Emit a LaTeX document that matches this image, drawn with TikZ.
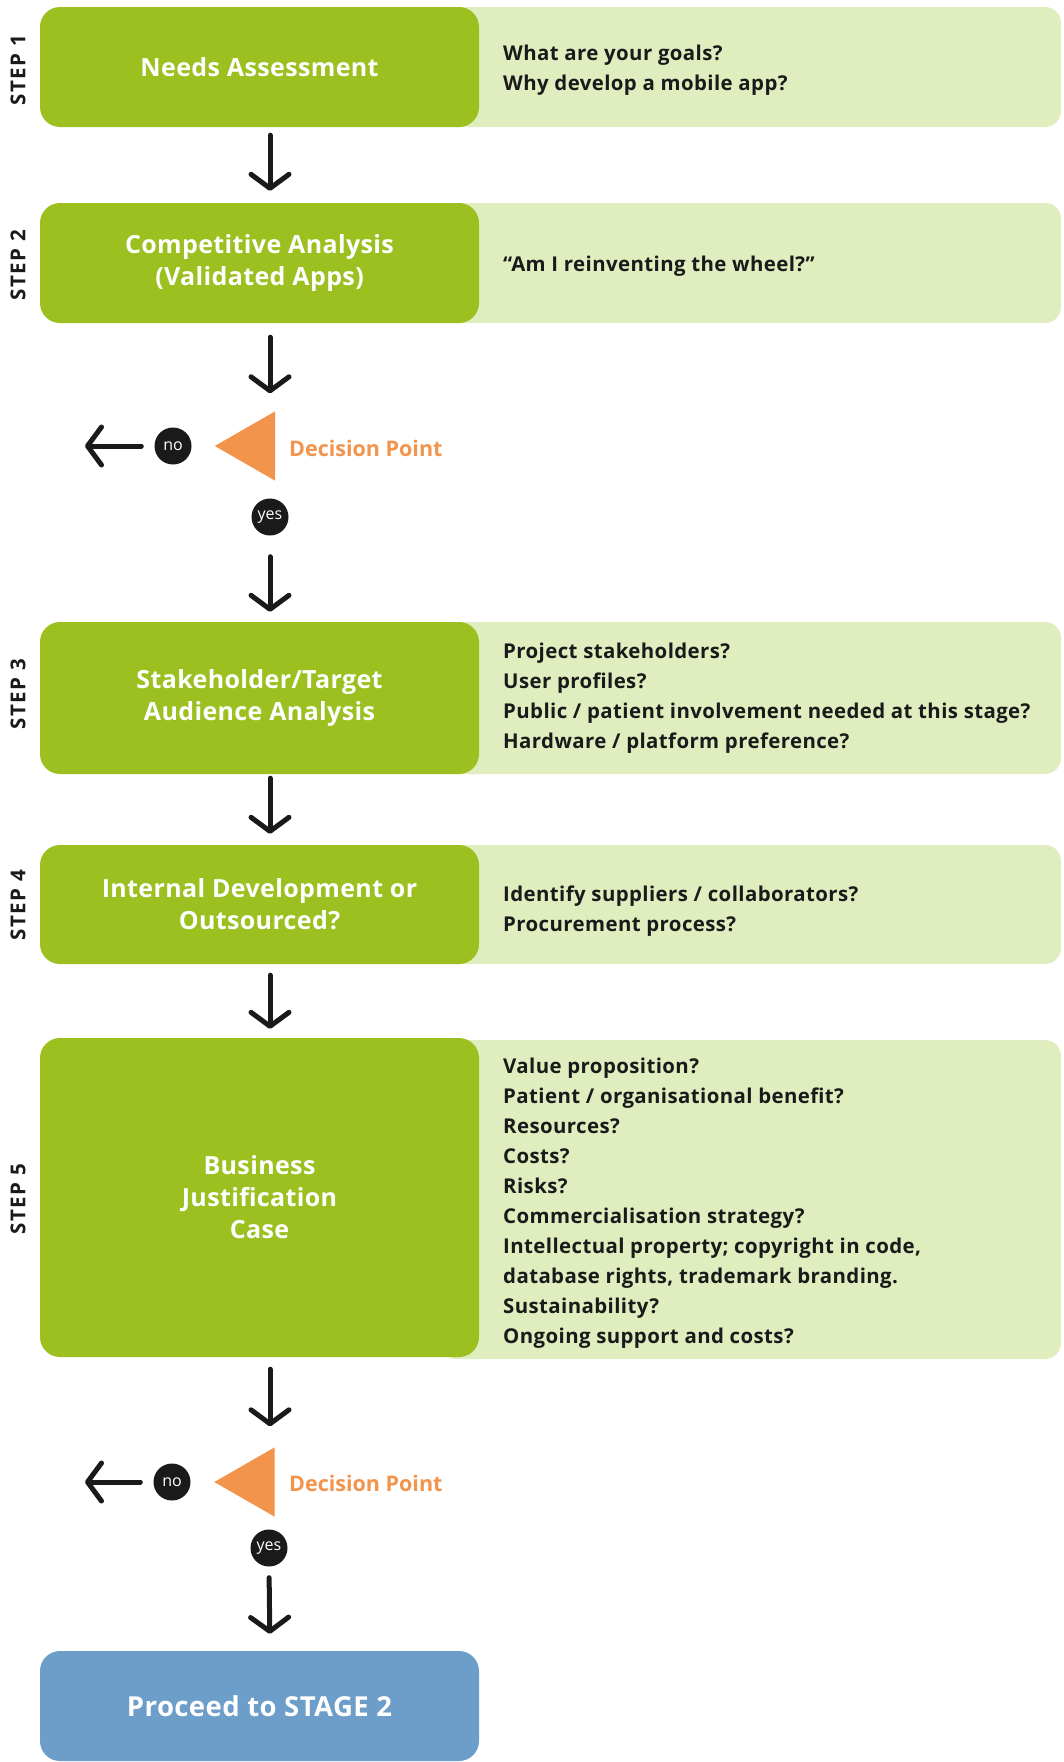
\documentclass[tikz,border=0pt]{standalone}
\usepackage{fontspec}
\setmainfont{Open Sans}
\newfontfamily\stepfont{Open Sans}[LetterSpace=7]
\newfontfamily\qfont{Open Sans}[LetterSpace=2]
\newfontfamily\boxfont{Open Sans}[LetterSpace=1.5]
\usetikzlibrary{arrows.meta}

\definecolor{stepgreen}{HTML}{9BC01F}
\definecolor{panelgreen}{HTML}{E0EDBF}
\definecolor{decisionorange}{HTML}{F2944C}
\definecolor{stageblue}{HTML}{6C9EC9}
\definecolor{ink}{HTML}{1A1A1A}

\tikzset{
  stepbox/.style={fill=stepgreen, rounded corners=20pt, minimum width=439pt,
    text=white, font=\boxfont\bfseries\fontsize{25}{32}\selectfont, align=center, inner sep=0pt},
  qtext/.style={anchor=west, align=left, text=ink, inner sep=0pt,
    font=\qfont\bfseries\fontsize{20.4}{30}\selectfont},
  steplabel/.style={rotate=90, text=ink, inner sep=0pt,
    font=\stepfont\bfseries\fontsize{20.5}{22}\selectfont},
  flow/.style={draw=ink, line width=5pt, line cap=round,
    -{Straight Barb[length=14pt, width=38pt, line cap=round, line join=round]}},
  answer/.style={circle, fill=ink, minimum size=37pt, inner sep=0pt, text=white,
    font=\fontsize{16}{16}\selectfont},
  decisiontext/.style={anchor=west, text=decisionorange, inner sep=0pt,
    font=\bfseries\fontsize{21.5}{24}\selectfont},
  hitbox/.style={inner sep=0pt, minimum width=60pt, minimum height=69pt}
}

\begin{document}
\begin{tikzpicture}[x=1pt, y=-1pt]
\useasboundingbox[fill=white] (0,0) rectangle (1064,1762);

% ---- light question panels behind the step boxes
\fill[panelgreen, rounded corners=16pt] (440,7)    rectangle (1061,127);
\fill[panelgreen, rounded corners=16pt] (440,203)  rectangle (1061,323);
\fill[panelgreen, rounded corners=16pt] (440,622)  rectangle (1061,774);
\fill[panelgreen, rounded corners=16pt] (440,845)  rectangle (1061,964);
\fill[panelgreen, rounded corners=16pt] (440,1040) rectangle (1061,1359);

% ---- step boxes
\node[stepbox, minimum height=120pt] (s1) at (259.5,67)  {Needs Assessment};
\node[stepbox, minimum height=120pt] (s2) at (259.5,263) {Competitive Analysis\\(Validated Apps)};
\node[stepbox, minimum height=152pt] (s3) at (259.5,698) {Stakeholder/Target\\Audience Analysis};
\node[stepbox, minimum height=119pt] (s4) at (259.5,904.5) {Internal Development or\\Outsourced?};
\node[stepbox, minimum height=319pt] (s5) at (259.5,1197.5) {Business\\Justification\\Case};
\node[stepbox, fill=stageblue, minimum height=110pt, font=\boxfont\bfseries\fontsize{27.5}{32}\selectfont]
  (stage) at (259.5,1706) {Proceed to STAGE 2};

% ---- step labels
\node[steplabel] (l1) at (18,70)   {STEP 1};
\node[steplabel] (l2) at (18,265)  {STEP 2};
\node[steplabel] (l3) at (18,694)  {STEP 3};
\node[steplabel] (l4) at (18,905)  {STEP 4};
\node[steplabel] (l5) at (18,1199) {STEP 5};

% ---- questions
\node[qtext] (q1) at (503,70) {What are your goals?\\Why develop a mobile app?};
\node[qtext] (q2) at (503,266.5) {“Am I reinventing the wheel?”};
\node[qtext] (q3) at (503,698.5) {Project stakeholders?\\User profiles?\\Public / patient involvement needed at this stage?\\Hardware / platform preference?};
\node[qtext] (q4) at (503,911) {Identify suppliers / collaborators?\\Procurement process?};
\node[qtext] (q5) at (503,1203) {Value proposition?\\Patient / organisational benefit?\\Resources?\\Costs?\\Risks?\\Commercialisation strategy?\\Intellectual property; copyright in code,\\database rights, trademark branding.\\Sustainability?\\Ongoing support and costs?};

% ---- decision points
\node[hitbox] (d1) at (245,446) {};
\fill[decisionorange] (d1.west) -- (d1.north east) -- (d1.south east) -- cycle;
\node[decisiontext] (d1t) at (289,448) {Decision Point};
\node[answer] (no1)  at (173,446) {no};
\node[answer] (yes1) at (270,517) {yes};
\coordinate (out1) at (85,446);

\node[hitbox] (d2) at (244.5,1482) {};
\fill[decisionorange] (d2.west) -- (d2.north east) -- (d2.south east) -- cycle;
\node[decisiontext] (d2t) at (289,1483) {Decision Point};
\node[answer] (no2)  at (172,1482) {no};
\node[answer] (yes2) at (269,1548) {yes};
\coordinate (out2) at (85,1482);

% ---- flow arrows along the spine
\coordinate (spine) at (270,0);
\draw[flow, shorten <=8pt, shorten >=12pt] (s1.south -| spine) -- (s2.north -| spine);
\draw[flow, shorten <=14pt, shorten >=18pt] (s2.south -| spine) -- (d1.north -| spine);
\draw[flow, shorten <=21pt, shorten >=10pt] (yes1.south) -- (s3.north -| spine);
\draw[flow, shorten <=4pt, shorten >=11pt] (s3.south -| spine) -- (s4.north -| spine);
\draw[flow, shorten <=11pt, shorten >=9pt] (s4.south -| spine) -- (s5.north -| spine);
\draw[flow, shorten <=12pt, shorten >=21pt] (s5.south -| spine) -- (d2.north -| spine);
\draw[flow, shorten <=11pt, shorten >=17pt] (yes2.south) -- (stage.north -| spine);
\draw[flow, shorten <=13pt] (no1.west) -- (out1);
\draw[flow, shorten <=13pt] (no2.west) -- (out2);
\end{tikzpicture}
\end{document}
